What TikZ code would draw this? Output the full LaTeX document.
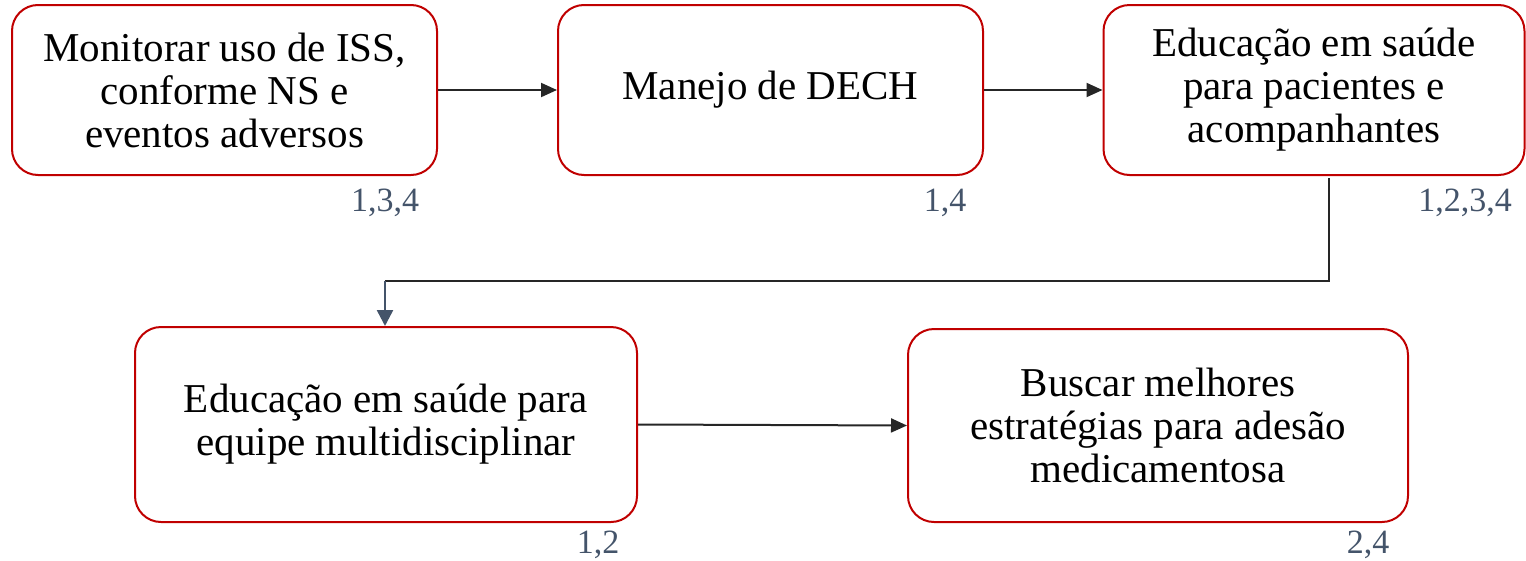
\documentclass[tikz,border=0pt]{standalone}
\usepackage{fontspec}
\setmainfont{Liberation Serif}
\usetikzlibrary{arrows.meta,calc}
\definecolor{boxred}{HTML}{C00000}
\definecolor{slate}{HTML}{44546A}
\definecolor{arrowdark}{HTML}{262626}
\begin{document}
\begin{tikzpicture}[x=1pt,y=-1pt,
  stepbox/.style={draw=boxred,line width=2pt,rounded corners=26pt,fill=white,
    align=center,inner sep=0pt,font=\fontsize{41}{43}\selectfont},
  reflabel/.style={text=slate,font=\fontsize{34}{36}\selectfont,inner sep=0pt},
  conn/.style={draw=arrowdark,line width=2pt,-{Triangle[length=16pt,width=14pt]}}]
\useasboundingbox (0,0) rectangle (1526,560);
\node[stepbox,minimum width=425pt,minimum height=170pt] (A) at (224.5,90)
  {Monitorar uso de ISS,\\conforme NS e\\eventos adversos};
\node[stepbox,minimum width=425pt,minimum height=170pt] (B) at (770.5,90)
  {Manejo de DECH};
\node[stepbox,minimum width=421pt,minimum height=170pt] (C) at (1314,90)
  {Educação em saúde\\para pacientes e\\acompanhantes};
\node[stepbox,minimum width=502pt,minimum height=195pt] (D) at (386,424.5)
  {Educação em saúde para\\equipe multidisciplinar};
\node[stepbox,minimum width=500pt,minimum height=193pt] (E) at (1158,425.5)
  {Buscar melhores\\estratégias para adesão\\medicamentosa};
\node[reflabel] (lA) at (385,203) {1,3,4};
\node[reflabel] (lB) at (945,203) {1,4};
\node[reflabel] (lC) at (1465,203) {1,2,3,4};
\node[reflabel] (lD) at (598,545) {1,2};
\node[reflabel] (lE) at (1368,545) {2,4};
\draw[conn] (A.east) -- (B.west);
\draw[conn] (B.east) -- (C.west);
\draw[conn] (D.east) -- (E.west);
\coordinate (corner) at (385,281);
\coordinate (cstart) at (1329,178);
\draw[draw=arrowdark,line width=2pt] (cstart) |- (corner);
\draw[draw=slate,line width=2.5pt,-{Triangle[length=16pt,width=16pt]}] (corner) -- (D.north -| corner);
\end{tikzpicture}
\end{document}
